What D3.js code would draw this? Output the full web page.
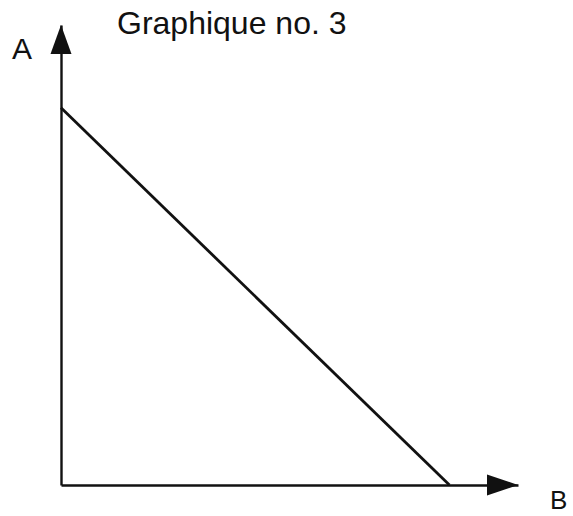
<!DOCTYPE html>
<html>
<head>
<meta charset="utf-8">
<script src="https://cdn.jsdelivr.net/npm/d3@7"></script>
<style>
  body { margin: 0; background: #fff; }
  text { font-family: "Liberation Sans", Arial, sans-serif; fill: #111; }
</style>
</head>
<body>
<figure id="graph3" style="margin:0"></figure>
<script>
// chart content
var title = "Graphique no. 3";
var yLabel = "A";
var xLabel = "B";
var axisMax = [10, 10];          // [B, A]
var lineB = [0, 8.5];            // B values of the line ends
var lineA = [8.2, 0];            // A values of the line ends

var width = 573, height = 516;
var origin = {x: 61, y: 485};

var svg = d3.select("figure#graph3")
  .append("svg")
    .attr("width", width)
    .attr("height", height);

var x = d3.scaleLinear()
  .domain([0, axisMax[0]])
  .range([origin.x, 518]);

var y = d3.scaleLinear()
  .domain([0, axisMax[1]])
  .range([origin.y, 25]);

// axes, no ticks
svg.append("g")
  .attr("transform", "translate(0," + origin.y + ")")
  .call(d3.axisBottom(x).ticks(0).tickSizeOuter(0))
  .select(".domain").attr("stroke", "#111").attr("stroke-width", 2.4);

svg.append("g")
  .attr("transform", "translate(" + origin.x + ",0)")
  .call(d3.axisLeft(y).ticks(0).tickSizeOuter(0))
  .select(".domain").attr("stroke", "#111").attr("stroke-width", 2.4);

// arrow heads
var xEnd = x(axisMax[0]), yEnd = y(axisMax[1]);
svg.append("path")
  .attr("d", "M" + xEnd + "," + origin.y + " L" + (xEnd - 31) + "," + (origin.y - 10.5) +
             " L" + (xEnd - 31) + "," + (origin.y + 10.5) + " Z")
  .attr("fill", "#111");
svg.append("path")
  .attr("d", "M" + origin.x + "," + yEnd + " L" + (origin.x - 10.5) + "," + (yEnd + 29) +
             " L" + (origin.x + 10.5) + "," + (yEnd + 29) + " Z")
  .attr("fill", "#111");

// the line
var pts = lineB.map(function(b, i) { return [b, lineA[i]]; });
svg.append("path")
  .datum(pts)
  .attr("fill", "none")
  .attr("stroke", "#111")
  .attr("stroke-width", 2.8)
  .attr("d", d3.line()
    .x(function(d) { return x(d[0]); })
    .y(function(d) { return y(d[1]); }));

// labels
svg.append("text")
  .attr("x", 117).attr("y", 34)
  .style("font-size", "32px")
  .text(title);

svg.append("text")
  .attr("x", 12).attr("y", 59)
  .style("font-size", "30px")
  .text(yLabel);

svg.append("text")
  .attr("x", 550).attr("y", 509)
  .style("font-size", "26px")
  .text(xLabel);
</script>
</body>
</html>
